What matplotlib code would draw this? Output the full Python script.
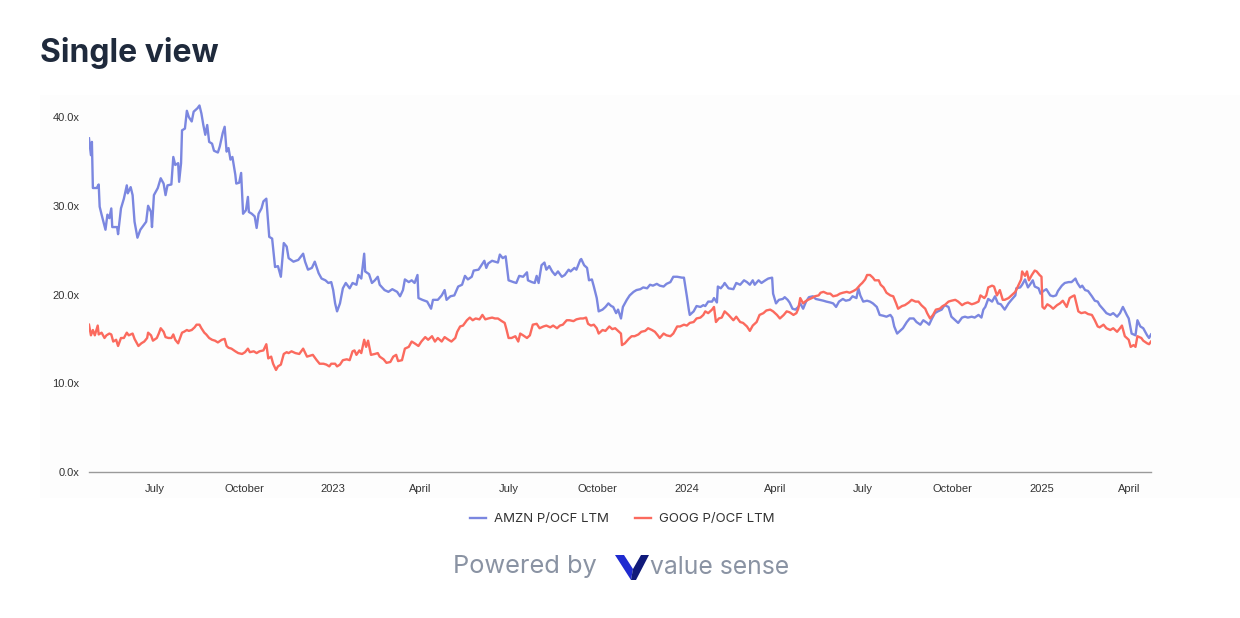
import matplotlib
matplotlib.use('Agg')
import matplotlib.pyplot as plt
import matplotlib.patches as patches
import pandas as pd

start = pd.Timestamp('2022-04-24')

# AMZN P/OCF LTM: days since start, value
amzn_days = [0, 2, 3, 4, 8, 10, 11, 13, 17, 19, 21, 23, 24, 29, 30, 33, 36, 39, 40, 43,
             45, 47, 50, 53, 55, 59, 61, 64, 65, 67, 71, 74, 77, 79, 81, 85, 87, 89, 92, 93,
             95, 96, 99, 101, 103, 106, 108, 110, 112, 114, 116, 118, 120, 122, 124, 127, 129, 133, 135, 138,
             140, 142, 144, 146, 148, 151, 152, 155, 157, 159, 162, 164, 165, 168, 171, 173, 175, 178, 180, 183,
             186, 189, 192, 195, 198, 201, 204, 206, 211, 216, 221, 223, 226, 230, 233, 237, 240, 244, 247, 250,
             252, 254, 256, 259, 262, 265, 269, 272, 276, 278, 281, 284, 285, 289, 292, 295, 298, 300, 305, 309,
             313, 318, 321, 324, 326, 330, 333, 336, 339, 340, 344, 349, 353, 355, 360, 364, 367, 369, 373, 377,
             381, 385, 388, 391, 395, 397, 402, 405, 408, 410, 412, 416, 419, 422, 424, 427, 430, 433, 438, 441,
             444, 448, 452, 453, 457, 460, 462, 464, 467, 470, 472, 475, 478, 481, 484, 488, 491, 495, 497, 501,
             503, 507, 508, 511, 514, 516, 519, 521, 524, 526, 530, 533, 536, 539, 541, 544, 546, 549, 551, 555,
             558, 562, 565, 569, 572, 576, 579, 582, 586, 589, 593, 596, 600, 603, 607, 612, 614, 617, 619, 620,
             624, 627, 631, 634, 636, 639, 643, 645, 648, 649, 652, 655, 656, 660, 665, 668, 672, 676, 679, 682,
             685, 687, 691, 694, 698, 701, 705, 706, 709, 712, 716, 718, 721, 723, 726, 729, 732, 734, 737, 740,
             743, 747, 750, 754, 758, 761, 765, 768, 771, 774, 778, 781, 785, 788, 792, 794, 796, 799, 803, 806,
             809, 813, 816, 820, 823, 827, 829, 831, 834, 837, 840, 844, 847, 851, 854, 858, 861, 865, 867, 870,
             873, 876, 880, 883, 887, 890, 894, 897, 901, 904, 907, 911, 914, 918, 921, 923, 925, 928, 932, 935,
             938, 941, 945, 949, 952, 956, 957, 961, 963, 966, 969, 971, 974, 976, 980, 982, 985, 988, 992, 995,
             998, 1000, 1004, 1007, 1011, 1014, 1018, 1020, 1023, 1025, 1028, 1031, 1035, 1038, 1041, 1043, 1047, 1050, 1054, 1057,
             1061, 1064, 1067, 1071, 1073, 1076, 1080, 1082, 1085, 1088, 1092, 1094, 1096]
amzn_vals = [37.6, 35.7, 37.2, 32.0, 32.0, 32.4, 29.9, 29.0, 27.3, 29.0, 28.6, 29.7, 27.6, 27.6, 26.8, 29.7, 30.8, 32.3, 31.4, 32.1,
             31.2, 28.2, 26.4, 27.3, 27.6, 28.2, 30.0, 29.3, 27.6, 31.2, 32.0, 33.1, 32.5, 31.2, 32.3, 32.4, 35.5, 34.6, 34.8, 32.7,
             34.8, 38.5, 38.7, 40.7, 40.0, 39.5, 40.6, 40.8, 41.0, 41.3, 40.4, 39.1, 38.0, 39.1, 37.2, 37.0, 36.2, 36.0, 36.7, 38.2,
             38.9, 36.1, 36.5, 35.2, 35.5, 33.5, 32.5, 32.6, 33.7, 29.1, 29.5, 31.0, 29.3, 29.1, 28.8, 27.5, 29.1, 29.7, 30.5, 30.8,
             26.5, 26.3, 23.1, 23.2, 22.0, 25.8, 25.4, 24.1, 23.7, 23.9, 24.6, 23.7, 22.8, 23.0, 23.7, 22.4, 21.8, 21.6, 21.3, 21.4,
             20.5, 19.0, 18.1, 19.0, 20.7, 21.3, 20.7, 21.3, 21.1, 22.2, 21.8, 24.6, 22.6, 22.3, 21.3, 21.6, 22.0, 21.1, 20.5, 20.3,
             20.6, 20.3, 19.8, 20.5, 21.7, 21.4, 21.6, 21.3, 22.2, 19.6, 19.4, 19.2, 18.4, 19.4, 19.4, 19.9, 20.5, 19.4, 19.8, 19.9,
             20.9, 21.1, 22.1, 21.7, 22.0, 22.7, 22.8, 23.3, 23.8, 23.0, 23.5, 23.8, 23.7, 23.6, 24.5, 24.1, 24.3, 21.6, 21.4, 21.3,
             22.1, 22.0, 22.5, 21.6, 21.4, 21.3, 22.1, 21.3, 23.3, 23.6, 22.8, 23.2, 22.6, 22.2, 22.6, 22.0, 22.2, 22.8, 22.6, 23.0,
             22.8, 23.9, 24.0, 23.3, 23.0, 21.6, 21.7, 20.9, 19.6, 18.1, 18.3, 18.6, 19.0, 18.7, 18.6, 17.9, 18.3, 17.3, 18.6, 19.4,
             19.9, 20.3, 20.5, 20.6, 20.8, 20.7, 21.1, 21.0, 21.2, 21.0, 20.9, 21.2, 21.4, 22.0, 22.0, 21.9, 21.9, 19.8, 18.3, 17.7,
             18.1, 18.7, 18.6, 18.8, 18.7, 19.2, 19.2, 19.6, 19.1, 20.9, 20.7, 21.1, 21.3, 20.7, 20.6, 21.3, 21.1, 21.6, 21.4, 21.1,
             21.6, 21.1, 21.6, 21.3, 21.6, 21.8, 21.9, 20.1, 19.0, 19.4, 19.5, 19.7, 19.4, 19.1, 18.4, 18.3, 18.6, 19.0, 18.4, 19.2,
             19.7, 19.8, 19.5, 19.4, 19.3, 19.2, 19.1, 19.0, 18.6, 19.2, 19.5, 19.3, 19.4, 19.8, 19.6, 20.7, 19.9, 19.2, 19.3, 19.2,
             19.0, 18.6, 17.7, 17.6, 17.5, 17.7, 17.4, 16.4, 15.6, 15.9, 16.2, 16.9, 17.3, 17.3, 16.9, 16.6, 17.1, 16.8, 16.6, 17.3,
             17.9, 18.1, 18.3, 18.8, 18.6, 17.5, 17.1, 16.8, 17.4, 17.5, 17.4, 17.5, 17.4, 17.7, 17.4, 18.3, 18.6, 19.5, 19.2, 19.8,
             19.0, 18.9, 18.3, 19.0, 19.4, 19.9, 20.7, 20.8, 21.1, 21.7, 20.8, 21.1, 21.6, 20.9, 20.7, 20.1, 20.4, 20.6, 19.9, 19.8,
             19.9, 20.4, 21.0, 21.3, 21.4, 21.4, 21.8, 21.3, 20.8, 21.0, 20.5, 20.4, 19.8, 19.3, 19.2, 18.8, 18.3, 17.9, 17.7, 17.9,
             17.5, 17.9, 18.6, 17.7, 17.3, 15.6, 15.4, 17.1, 16.4, 16.2, 15.4, 15.1, 15.5]

# GOOG P/OCF LTM: days since start, value
goog_days = [0, 2, 4, 6, 9, 10, 13, 16, 18, 21, 23, 25, 28, 30, 33, 36, 39, 41, 45, 47,
             51, 54, 57, 60, 61, 64, 66, 70, 72, 74, 77, 79, 82, 85, 87, 89, 92, 94, 96, 98,
             101, 103, 106, 109, 111, 114, 116, 119, 121, 124, 127, 130, 133, 137, 140, 142, 144, 147, 151, 154,
             158, 161, 164, 166, 170, 173, 176, 180, 183, 185, 188, 190, 193, 195, 198, 201, 204, 206, 209, 213,
             217, 221, 225, 228, 231, 235, 238, 242, 245, 248, 250, 254, 256, 259, 262, 266, 269, 272, 274, 276,
             279, 281, 284, 286, 288, 291, 295, 298, 300, 304, 307, 311, 314, 317, 319, 323, 326, 330, 333, 336,
             340, 343, 347, 350, 354, 357, 360, 364, 367, 371, 374, 378, 380, 383, 386, 390, 393, 396, 399, 403,
             406, 409, 412, 416, 419, 422, 426, 429, 431, 433, 436, 440, 443, 445, 448, 452, 455, 458, 462, 465,
             469, 472, 476, 479, 483, 486, 489, 493, 496, 500, 503, 507, 510, 513, 515, 518, 521, 524, 526, 530,
             533, 537, 540, 543, 546, 549, 550, 553, 557, 560, 563, 567, 570, 574, 577, 581, 584, 587, 589, 593,
             596, 600, 603, 607, 610, 614, 617, 620, 624, 627, 631, 634, 636, 639, 643, 645, 647, 650, 653, 656,
             660, 665, 668, 672, 675, 679, 682, 685, 689, 692, 696, 699, 703, 706, 710, 713, 717, 720, 723, 727,
             730, 732, 734, 737, 739, 742, 746, 749, 753, 755, 758, 762, 765, 768, 772, 775, 778, 782, 785, 789,
             792, 796, 798, 801, 803, 806, 809, 811, 815, 817, 820, 823, 827, 830, 833, 835, 839, 842, 846, 849,
             853, 856, 859, 863, 865, 868, 871, 874, 878, 881, 883, 887, 890, 894, 897, 901, 904, 907, 911, 914,
             918, 920, 924, 926, 928, 932, 934, 937, 940, 943, 945, 949, 952, 956, 959, 962, 963, 966, 968, 970,
             973, 976, 978, 981, 983, 984, 986, 989, 992, 995, 999, 1002, 1005, 1009, 1012, 1015, 1017, 1019, 1021, 1024,
             1028, 1031, 1035, 1038, 1041, 1043, 1047, 1050, 1054, 1057, 1061, 1064, 1066, 1069, 1073, 1075, 1078, 1080, 1082, 1086,
             1088, 1092, 1094, 1096]
goog_vals = [16.6, 15.4, 16.0, 15.4, 16.5, 15.5, 15.7, 15.1, 15.4, 15.6, 15.5, 14.7, 14.9, 14.2, 15.1, 15.1, 15.7, 15.4, 15.6, 15.0,
             14.2, 14.5, 14.7, 15.1, 15.7, 15.4, 14.8, 15.1, 15.6, 16.2, 15.8, 15.2, 15.1, 15.1, 15.5, 14.9, 14.5, 15.1, 15.7, 15.8,
             16.0, 15.9, 16.0, 16.3, 16.6, 16.6, 16.2, 15.7, 15.5, 15.1, 14.9, 14.8, 14.6, 14.9, 15.0, 14.2, 14.0, 13.9, 13.6, 13.4,
             13.3, 13.5, 13.9, 13.5, 13.6, 13.4, 13.6, 13.7, 14.4, 12.8, 13.0, 12.2, 11.5, 11.9, 12.1, 13.3, 13.5, 13.4, 13.6, 13.4,
             13.3, 13.9, 13.0, 13.1, 13.2, 12.6, 12.2, 12.2, 12.1, 11.9, 12.2, 12.2, 11.9, 12.1, 12.6, 12.7, 12.6, 13.6, 13.7, 13.2,
             13.7, 13.4, 14.9, 14.1, 14.8, 13.2, 13.3, 13.4, 13.0, 12.7, 12.3, 12.4, 13.0, 13.2, 12.5, 12.6, 13.9, 14.1, 14.7, 14.5,
             14.2, 14.7, 15.2, 14.9, 15.3, 14.7, 15.1, 14.7, 15.2, 14.9, 14.7, 15.1, 15.8, 16.4, 16.5, 17.1, 17.4, 17.1, 17.3, 17.2,
             17.7, 17.2, 17.3, 17.4, 17.3, 17.3, 17.0, 16.8, 16.0, 15.1, 15.1, 15.3, 14.7, 15.6, 15.4, 15.1, 15.4, 16.6, 16.7, 16.2,
             16.4, 16.5, 16.3, 16.5, 16.2, 16.5, 16.6, 17.1, 17.1, 17.0, 17.2, 17.3, 17.3, 17.4, 16.7, 16.5, 16.6, 16.2, 15.6, 16.0,
             15.9, 16.4, 16.1, 16.2, 15.9, 15.6, 14.3, 14.5, 15.0, 15.3, 15.3, 15.5, 15.8, 15.9, 16.2, 16.0, 15.8, 15.4, 15.1, 15.6,
             15.4, 15.3, 15.6, 16.4, 16.4, 16.6, 16.5, 16.8, 16.9, 17.3, 17.4, 17.7, 18.1, 17.9, 18.3, 18.6, 16.9, 17.3, 17.4, 18.1,
             17.7, 17.1, 17.5, 16.9, 16.8, 16.4, 15.9, 16.5, 16.9, 17.7, 17.9, 18.2, 18.3, 18.1, 17.7, 17.3, 17.7, 18.1, 18.0, 17.7,
             17.9, 18.4, 19.6, 19.0, 19.2, 19.4, 19.6, 19.8, 19.9, 20.2, 20.3, 20.1, 20.1, 19.8, 19.9, 20.1, 20.2, 20.3, 20.2, 20.4,
             20.6, 21.1, 21.3, 21.7, 22.2, 22.2, 21.9, 21.6, 21.6, 21.1, 20.8, 20.2, 19.9, 19.8, 19.0, 18.4, 18.7, 18.8, 19.1, 19.4,
             19.2, 19.2, 18.8, 18.4, 17.9, 17.3, 17.7, 18.3, 18.4, 18.7, 18.8, 19.2, 19.3, 19.4, 19.2, 18.8, 19.0, 19.1, 18.9, 19.0,
             19.2, 19.9, 19.6, 19.9, 20.8, 21.0, 20.9, 19.9, 20.5, 19.4, 19.4, 19.6, 19.9, 20.3, 21.0, 21.7, 22.6, 22.1, 22.6, 21.6,
             22.2, 22.7, 22.6, 22.2, 22.0, 18.6, 18.4, 18.9, 18.7, 18.4, 18.8, 19.0, 19.3, 18.6, 19.6, 19.8, 19.9, 19.0, 18.1, 17.9,
             18.0, 17.8, 17.7, 17.1, 16.4, 16.3, 16.6, 16.2, 16.0, 16.2, 15.8, 16.2, 16.5, 15.3, 14.9, 14.1, 14.3, 14.1, 15.3, 15.1,
             14.8, 14.5, 14.4, 14.7]

tick_dates = ['2022-07-01', '2022-10-01', '2023-01-01', '2023-04-01', '2023-07-01', '2023-10-01',
              '2024-01-01', '2024-04-01', '2024-07-01', '2024-10-01', '2025-01-01', '2025-04-01']
tick_labels = ['July', 'October', '2023', 'April', 'July', 'October',
               '2024', 'April', 'July', 'October', '2025', 'April']
y_ticks = [0, 10, 20, 30, 40]

amzn_color = '#7b87e0'
goog_color = '#fb6a5e'

fig = plt.figure(figsize=(12.4, 6.18), dpi=100)
fig.patch.set_facecolor('white')

# faint panel behind the chart
fig.patches.append(patches.Rectangle((40 / 1240, 120 / 618), 1200 / 1240, 403 / 618,
                                     transform=fig.transFigure, facecolor='#fdfdfd',
                                     edgecolor='none', zorder=-5))

ax = fig.add_axes([89 / 1240, 146 / 618, 1062 / 1240, 381.6 / 618])
ax.set_facecolor('none')
ax.set_zorder(2)

amzn_x = start + pd.to_timedelta(amzn_days, unit='D')
goog_x = start + pd.to_timedelta(goog_days, unit='D')
ax.plot(amzn_x, amzn_vals, color=amzn_color, lw=1.7, label='AMZN P/OCF LTM', zorder=3)
ax.plot(goog_x, goog_vals, color=goog_color, lw=1.7, label='GOOG P/OCF LTM', zorder=3)

ax.set_xlim(start, start + pd.Timedelta(days=1096))
ax.set_ylim(0, 43)

ax.set_xticks(pd.to_datetime(tick_dates))
ax.set_xticklabels(tick_labels)
ax.set_yticks(y_ticks)
ax.set_yticklabels(['%.1fx' % v for v in y_ticks])
ax.tick_params(axis='both', length=0, labelsize=8, labelcolor='#333333')
ax.tick_params(axis='x', pad=8.5)
ax.tick_params(axis='y', pad=7)
for lbl in ax.get_xticklabels() + ax.get_yticklabels():
    lbl.set_family('Liberation Sans')

for s in ['top', 'right', 'left']:
    ax.spines[s].set_visible(False)
ax.spines['bottom'].set_color('#9a9a9a')
ax.spines['bottom'].set_linewidth(1)

fig.text(40 / 1240, 1 - 53 / 618, 'Single view', fontsize=23, fontweight='bold',
         color='#1f2a3c', family='Inter', va='center', ha='left')

leg = fig.legend(loc='center', bbox_to_anchor=(622 / 1240, 1 - 519 / 618), ncol=2,
                 frameon=False, handlelength=1.2, columnspacing=2.0,
                 handletextpad=0.6, prop={'family': 'Inter', 'size': 9.5})
for t in leg.get_texts():
    t.set_color('#333333')

fig.text(453 / 1240, 1 - 567 / 618, 'Powered by', fontsize=18.3, color='#8a93a3',
         family='Inter', va='center', ha='left')
# logo mark
fig.patches.append(patches.Polygon([(615 / 1240, 1 - 555 / 618), (624 / 1240, 1 - 555 / 618),
                                    (633 / 1240, 1 - 569 / 618), (631 / 1240, 1 - 580 / 618)],
                                   closed=True, transform=fig.transFigure,
                                   facecolor='#1f2bd0', edgecolor='none'))
fig.patches.append(patches.Polygon([(631 / 1240, 1 - 580 / 618), (633 / 1240, 1 - 569 / 618),
                                    (641 / 1240, 1 - 555 / 618), (649 / 1240, 1 - 555 / 618),
                                    (636 / 1240, 1 - 580 / 618)],
                                   closed=True, transform=fig.transFigure,
                                   facecolor='#101a7a', edgecolor='none'))
fig.text(650 / 1240, 1 - 568 / 618, 'value sense', fontsize=17.8, color='#8a93a3',
         family='Inter', va='center', ha='left')

fig.savefig('out.png', dpi=100)
